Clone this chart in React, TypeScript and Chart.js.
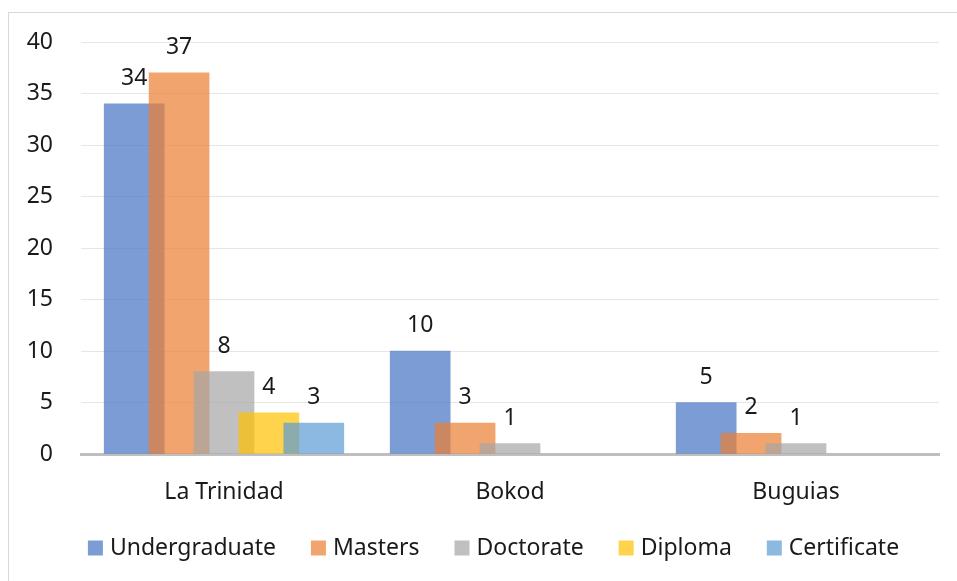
import React, { useEffect, useRef } from "react";
import { Chart, registerables } from "chart.js";

Chart.register(...registerables);

const CATEGORIES = ["La Trinidad", "Bokod", "Buguias"];
const SERIES_NAMES = ["Undergraduate", "Masters", "Doctorate", "Diploma", "Certificate"];
const UNDERGRADUATE = [34, 10, 5];
const MASTERS = [37, 3, 2];
const DOCTORATE = [8, 1, 1];
const DIPLOMA: (number | null)[] = [4, null, null];
const CERTIFICATE: (number | null)[] = [3, null, null];
const SERIES_VALUES = [UNDERGRADUATE, MASTERS, DOCTORATE, DIPLOMA, CERTIFICATE];
const SERIES_COLORS = [
  "rgba(68,114,196,0.7)",
  "rgba(237,125,49,0.7)",
  "rgba(165,165,165,0.7)",
  "rgba(255,192,0,0.7)",
  "rgba(91,155,213,0.7)",
];
const Y_TICKS = [0, 5, 10, 15, 20, 25, 30, 35, 40];

// Excel-like overlapping clusters: slot step as a fraction of a category
const SLOT = 0.157;
const FONT = "'Noto Sans', sans-serif";
const TEXT_COLOR = "#1a1a1a";

const framePlugin = {
  id: "frame",
  beforeDraw(chart: any) {
    const { ctx, width, height } = chart;
    ctx.save();
    ctx.fillStyle = "#ffffff";
    ctx.fillRect(0, 0, width, height);
    ctx.strokeStyle = "#d9d9d9";
    ctx.lineWidth = 1;
    ctx.strokeRect(8.5, 12.5, width + 50, height + 50);
    ctx.restore();
  },
};

// Excel-style legend, centred in the chart frame under the axis
const legendPlugin = {
  id: "excelLegend",
  afterDraw(chart: any) {
    const { ctx } = chart;
    const box = 15;
    const gap = 7;
    const itemGap = 35;
    const centerX = 493.5;
    const centerY = 548;
    ctx.save();
    ctx.font = `23px ${FONT}`;
    ctx.textBaseline = "middle";
    ctx.textAlign = "left";
    const items = chart.data.datasets.map((ds: any) => ({
      text: ds.label,
      color: ds.backgroundColor,
      w: ctx.measureText(ds.label).width,
    }));
    const total =
      items.reduce((s: number, it: any) => s + box + gap + it.w, 0) + itemGap * (items.length - 1);
    let x = centerX - total / 2;
    items.forEach((it: any) => {
      ctx.fillStyle = it.color;
      ctx.fillRect(x, centerY - box / 2, box, box);
      ctx.fillStyle = TEXT_COLOR;
      ctx.fillText(it.text, x + box + gap, centerY);
      x += box + gap + it.w + itemGap;
    });
    ctx.restore();
  },
};

const labelPlugin = {
  id: "valueLabels",
  afterDatasetsDraw(chart: any) {
    const { ctx } = chart;
    ctx.save();
    ctx.font = `23px ${FONT}`;
    ctx.fillStyle = TEXT_COLOR;
    ctx.textAlign = "center";
    ctx.textBaseline = "alphabetic";
    chart.data.datasets.forEach((ds: any, i: number) => {
      const meta = chart.getDatasetMeta(i);
      meta.data.forEach((el: any, j: number) => {
        const v = ds.data[j].y;
        if (v == null) return;
        ctx.fillText(String(v), el.x, el.y - 19);
      });
    });
    ctx.restore();
  },
};

export default function App() {
  const ref = useRef<HTMLCanvasElement | null>(null);
  useEffect(() => {
    if (!ref.current) return;
    const n = SERIES_NAMES.length;
    const datasets = SERIES_NAMES.map((name, i) => ({
      label: name,
      data: SERIES_VALUES[i]
        .map((v, c) => ({ x: c + (i - (n - 1) / 2) * SLOT, y: v }))
        .filter((p) => p.y != null),
      backgroundColor: SERIES_COLORS[i],
      borderWidth: 0,
      grouped: false,
      barThickness: 60,
      order: n - i,
    }));
    const chart = new Chart(ref.current, {
      type: "bar",
      data: { datasets } as any,
      plugins: [framePlugin, labelPlugin, legendPlugin],
      options: {
        animation: false,
        responsive: false,
        maintainAspectRatio: false,
        layout: { padding: { left: 0, right: 18, top: 42, bottom: 0 } },
        scales: {
          x: {
            type: "linear",
            min: -0.5,
            max: 2.5,
            offset: false,
            afterBuildTicks: (scale: any) => {
              scale.ticks = CATEGORIES.map((_, i) => ({ value: i }));
            },
            afterFit: (scale: any) => {
              scale.height = 127;
            },
            grid: { display: false, drawTicks: false },
            border: { display: true, color: "#bfbfbf", width: 3 },
            ticks: {
              padding: 25,
              autoSkip: false,
              maxRotation: 0,
              color: TEXT_COLOR,
              font: { family: FONT, size: 23 },
              callback: (v: any) => CATEGORIES[v] ?? "",
            },
          },
          y: {
            min: 0,
            max: 40,
            afterBuildTicks: (scale: any) => {
              scale.ticks = Y_TICKS.map((v) => ({ value: v }));
            },
            afterFit: (scale: any) => {
              scale.width = 81;
            },
            grid: { color: "#e6e6e6", lineWidth: 1, drawTicks: false },
            border: { display: false },
            ticks: {
              padding: 28,
              color: TEXT_COLOR,
              font: { family: FONT, size: 23 },
            },
          },
        },
        plugins: {
          legend: { display: false },
          tooltip: { enabled: false },
        },
      } as any,
    });
    return () => chart.destroy();
  }, []);
  return (
    <div style={{ position: "absolute", left: 0, top: 0, width: 957, height: 581, overflow: "hidden" }}>
      <canvas ref={ref} width={957} height={581} style={{ display: "block" }} />
    </div>
  );
}
